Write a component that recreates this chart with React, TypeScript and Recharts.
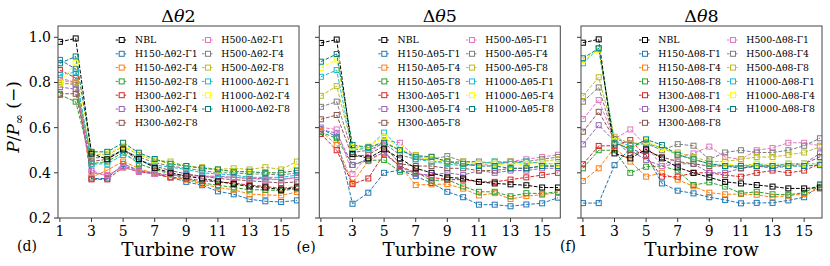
import React from 'react'
import { LineChart, Line, XAxis, YAxis } from 'recharts'

const rows = [1, 2, 3, 4, 5, 6, 7, 8, 9, 10, 11, 12, 13, 14, 15, 16]
const xTicks = [1, 3, 5, 7, 9, 11, 13, 15]
const yTicks = [0.2, 0.4, 0.6, 0.8, 1.0]
const panelThetas = ['2', '5', '8']
const panelTags = ['(d)', '(e)', '(f)']
const heights = ['150', '300', '500', '1000']
const gammas = ['1', '4', '8']
const seriesColors = [
  '#000000', '#1f77b4', '#ff7f0e', '#2ca02c', '#d62728', '#9467bd', '#8c564b',
  '#e377c2', '#7f7f7f', '#bcbd22', '#17becf', '#ffff00', '#008080',
]

// order: NBL, H150-Γ1/4/8, H300-Γ1/4/8, H500-Γ1/4/8, H1000-Γ1/4/8
const dTheta2: number[][] = [
  [0.98, 0.995, 0.485, 0.46, 0.504, 0.461, 0.422, 0.4, 0.385, 0.375, 0.362, 0.35, 0.34, 0.335, 0.325, 0.335],
  [0.9, 0.86, 0.375, 0.375, 0.44, 0.41, 0.395, 0.38, 0.36, 0.345, 0.318, 0.305, 0.283, 0.274, 0.271, 0.278],
  [0.81, 0.8, 0.38, 0.412, 0.45, 0.42, 0.395, 0.38, 0.37, 0.35, 0.335, 0.325, 0.306, 0.302, 0.3, 0.315],
  [0.745, 0.715, 0.44, 0.45, 0.49, 0.44, 0.415, 0.395, 0.375, 0.355, 0.345, 0.335, 0.325, 0.325, 0.32, 0.33],
  [0.855, 0.82, 0.371, 0.371, 0.424, 0.405, 0.395, 0.38, 0.375, 0.365, 0.36, 0.355, 0.345, 0.34, 0.33, 0.34],
  [0.78, 0.77, 0.41, 0.385, 0.43, 0.41, 0.4, 0.39, 0.39, 0.385, 0.385, 0.38, 0.375, 0.375, 0.37, 0.38],
  [0.75, 0.75, 0.45, 0.46, 0.5, 0.455, 0.43, 0.41, 0.395, 0.385, 0.375, 0.37, 0.365, 0.36, 0.355, 0.36],
  [0.82, 0.8, 0.4, 0.39, 0.424, 0.405, 0.395, 0.39, 0.385, 0.385, 0.38, 0.38, 0.375, 0.37, 0.37, 0.38],
  [0.8, 0.79, 0.465, 0.47, 0.5, 0.47, 0.445, 0.43, 0.42, 0.41, 0.4, 0.4, 0.395, 0.395, 0.39, 0.4],
  [0.79, 0.8, 0.48, 0.48, 0.515, 0.48, 0.455, 0.45, 0.43, 0.425, 0.415, 0.42, 0.415, 0.425, 0.415, 0.45],
  [0.835, 0.845, 0.438, 0.44, 0.479, 0.455, 0.435, 0.425, 0.415, 0.4, 0.395, 0.39, 0.38, 0.38, 0.38, 0.39],
  [0.8, 0.885, 0.49, 0.485, 0.52, 0.485, 0.455, 0.44, 0.43, 0.42, 0.41, 0.41, 0.4, 0.4, 0.4, 0.43],
  [0.885, 0.915, 0.493, 0.493, 0.533, 0.489, 0.461, 0.44, 0.43, 0.42, 0.415, 0.405, 0.405, 0.4, 0.4, 0.41],
]

const dTheta5: number[][] = [
  [0.975, 0.99, 0.483, 0.464, 0.504, 0.464, 0.42, 0.4, 0.38, 0.375, 0.36, 0.353, 0.349, 0.345, 0.335, 0.335],
  [0.595, 0.56, 0.263, 0.312, 0.4, 0.412, 0.385, 0.355, 0.316, 0.292, 0.259, 0.259, 0.252, 0.26, 0.265, 0.29],
  [0.585, 0.523, 0.356, 0.452, 0.493, 0.43, 0.346, 0.349, 0.35, 0.33, 0.3, 0.31, 0.284, 0.297, 0.303, 0.312],
  [0.58, 0.553, 0.435, 0.455, 0.457, 0.405, 0.405, 0.365, 0.37, 0.34, 0.316, 0.316, 0.296, 0.31, 0.308, 0.316],
  [0.572, 0.5, 0.35, 0.375, 0.485, 0.43, 0.4, 0.38, 0.37, 0.37, 0.36, 0.36, 0.37, 0.38, 0.39, 0.4],
  [0.592, 0.575, 0.435, 0.46, 0.49, 0.427, 0.395, 0.39, 0.4, 0.39, 0.41, 0.4, 0.41, 0.41, 0.42, 0.42],
  [0.637, 0.656, 0.47, 0.48, 0.52, 0.44, 0.43, 0.43, 0.42, 0.42, 0.41, 0.41, 0.42, 0.42, 0.43, 0.43],
  [0.601, 0.592, 0.395, 0.48, 0.545, 0.533, 0.47, 0.45, 0.45, 0.43, 0.44, 0.43, 0.45, 0.46, 0.47, 0.48],
  [0.692, 0.715, 0.49, 0.5, 0.53, 0.48, 0.46, 0.46, 0.474, 0.45, 0.45, 0.44, 0.45, 0.45, 0.46, 0.47],
  [0.741, 0.784, 0.51, 0.51, 0.54, 0.5, 0.479, 0.47, 0.45, 0.45, 0.44, 0.45, 0.45, 0.44, 0.45, 0.46],
  [0.825, 0.855, 0.5, 0.51, 0.578, 0.51, 0.46, 0.45, 0.44, 0.43, 0.44, 0.45, 0.44, 0.45, 0.44, 0.44],
  [0.865, 0.902, 0.515, 0.52, 0.557, 0.51, 0.47, 0.46, 0.45, 0.44, 0.44, 0.44, 0.43, 0.44, 0.44, 0.44],
  [0.892, 0.926, 0.523, 0.513, 0.533, 0.5, 0.471, 0.471, 0.45, 0.44, 0.43, 0.43, 0.42, 0.42, 0.43, 0.43],
]

const dTheta8: number[][] = [
  [0.976, 0.991, 0.486, 0.464, 0.504, 0.464, 0.424, 0.4, 0.38, 0.36, 0.353, 0.346, 0.339, 0.331, 0.331, 0.335],
  [0.266, 0.266, 0.434, 0.508, 0.48, 0.353, 0.321, 0.309, 0.292, 0.28, 0.265, 0.267, 0.267, 0.278, 0.292, 0.345],
  [0.364, 0.42, 0.511, 0.45, 0.383, 0.4, 0.37, 0.34, 0.312, 0.305, 0.306, 0.303, 0.292, 0.299, 0.306, 0.33],
  [0.42, 0.5, 0.5, 0.4, 0.427, 0.43, 0.41, 0.346, 0.358, 0.339, 0.309, 0.316, 0.305, 0.303, 0.312, 0.349],
  [0.438, 0.519, 0.52, 0.545, 0.474, 0.383, 0.383, 0.4, 0.4, 0.39, 0.383, 0.4, 0.41, 0.4, 0.41, 0.44],
  [0.526, 0.611, 0.54, 0.5, 0.457, 0.43, 0.44, 0.44, 0.4, 0.4, 0.42, 0.43, 0.42, 0.43, 0.44, 0.486],
  [0.582, 0.67, 0.55, 0.479, 0.5, 0.47, 0.45, 0.44, 0.43, 0.43, 0.42, 0.43, 0.43, 0.44, 0.44, 0.47],
  [0.638, 0.722, 0.55, 0.592, 0.52, 0.43, 0.47, 0.486, 0.516, 0.47, 0.46, 0.5, 0.51, 0.533, 0.533, 0.52],
  [0.715, 0.778, 0.55, 0.53, 0.53, 0.5, 0.527, 0.52, 0.46, 0.49, 0.5, 0.49, 0.49, 0.5, 0.52, 0.553],
  [0.74, 0.823, 0.56, 0.53, 0.535, 0.51, 0.49, 0.47, 0.45, 0.45, 0.46, 0.47, 0.47, 0.48, 0.49, 0.515],
  [0.885, 0.951, 0.54, 0.52, 0.53, 0.51, 0.48, 0.46, 0.44, 0.43, 0.43, 0.44, 0.43, 0.44, 0.44, 0.44],
  [0.9, 0.945, 0.54, 0.51, 0.54, 0.51, 0.48, 0.46, 0.44, 0.44, 0.43, 0.44, 0.44, 0.44, 0.44, 0.44],
  [0.907, 0.951, 0.53, 0.508, 0.548, 0.523, 0.48, 0.46, 0.44, 0.43, 0.43, 0.43, 0.43, 0.43, 0.43, 0.434],
]

const panelValues = [dTheta2, dTheta5, dTheta8]

const FONT = '"DejaVu Serif", serif'
const PLOT_TOP = 26
const PLOT_H = 192
const PLOT_W = 241
const Y_W = 50
const plotLefts = [58, 319.3, 581]
const legendCol1 = [63.7, 65, 64]
const legendCol2 = [150, 152.7, 152]
const LEGEND_Y0 = 40
const LEGEND_DY = 13.8
const DASH = '3.7 1.6'

const seriesLabel = (i: number, theta: string) => {
  if (i === 0) return 'NBL'
  const h = heights[Math.floor((i - 1) / 3)]
  const g = gammas[(i - 1) % 3]
  return `H${h}-Δθ${theta}-Γ${g}`
}

const squareDot = (color: string) => (props: any) => {
  const { cx, cy, index } = props
  if (cx == null || cy == null) return <g key={index} />
  return (
    <rect key={index} x={cx - 2.5} y={cy - 2.5} width={5} height={5}
      fill="none" stroke={color} strokeWidth={1} />
  )
}

function Panel({ p }: { p: number }) {
  const vals = panelValues[p]
  const data = rows.map((r, j) => {
    const d: Record<string, number> = { row: r }
    vals.forEach((s, i) => { d[`s${i}`] = s[j] })
    return d
  })
  // draw NBL last so it stays on top
  const order = [1, 2, 3, 4, 5, 6, 7, 8, 9, 10, 11, 12, 0]
  return (
    <div style={{ position: 'absolute', left: plotLefts[p] - Y_W, top: PLOT_TOP - 5 }}>
      <LineChart width={Y_W + PLOT_W + 5} height={5 + PLOT_H + 30} data={data}
        margin={{ top: 5, right: 5, bottom: 0, left: 0 }}>
        <XAxis dataKey="row" type="number" domain={[0.88, 16.13]} ticks={xTicks}
          allowDataOverflow interval={0} height={30} axisLine={false}
          tickSize={4} tickMargin={4} tickLine={{ stroke: '#333' }}
          tick={{ fontSize: 14, fill: '#000', fontFamily: FONT }} />
        <YAxis type="number" domain={[0.2, 1.05]} ticks={yTicks} allowDataOverflow
          width={Y_W} axisLine={false} tickSize={4} tickMargin={3} interval={0}
          tickLine={{ stroke: '#333' }}
          tickFormatter={(v: number) => (p === 0 ? v.toFixed(1) : '')}
          tick={{ fontSize: 14, fill: '#000', fontFamily: FONT }} />
        {order.map(i => (
          <Line key={i} type="linear" dataKey={`s${i}`} stroke={seriesColors[i]}
            strokeWidth={1} strokeDasharray={DASH} dot={squareDot(seriesColors[i])}
            activeDot={false} isAnimationActive={false} />
        ))}
      </LineChart>
    </div>
  )
}

function Overlay() {
  return (
    <svg width={830} height={266} style={{ position: 'absolute', left: 0, top: 0, pointerEvents: 'none' }}
      fontFamily={FONT}>
      {plotLefts.map((left, p) => {
        const cx = left + PLOT_W / 2
        return (
          <g key={p}>
            <rect x={left} y={PLOT_TOP} width={PLOT_W} height={PLOT_H} fill="none"
              stroke="#444" strokeWidth={1} />
            <text x={cx} y={21.5} fontSize={17.5} textAnchor="middle" fill="#000">
              Δ<tspan fontStyle="italic">θ</tspan>{panelThetas[p]}
            </text>
            <text x={cx} y={255.5} fontSize={18.4} textAnchor="middle" fill="#000">Turbine row</text>
            {vals(p).map((_, i) => {
              const col = i < 7 ? 0 : 1
              const k = i < 7 ? i : i - 7
              const mx = left + (col === 0 ? legendCol1[p] : legendCol2[p])
              const my = LEGEND_Y0 + k * LEGEND_DY
              const c = seriesColors[i]
              return (
                <g key={i}>
                  <line x1={mx - 6} x2={mx + 6} y1={my} y2={my} stroke={c} strokeWidth={1} strokeDasharray="2.5 1.5" />
                  <rect x={mx - 2.5} y={my - 2.5} width={5} height={5} fill="#fff" stroke={c} strokeWidth={1} />
                  <text x={mx + 13.3} y={my + 3.4} fontSize={9.3} fill="#000">{seriesLabel(i, panelThetas[p])}</text>
                </g>
              )
            })}
          </g>
        )
      })}
      <text x={27} y={251} fontSize={14} textAnchor="middle" fill="#000">{panelTags[0]}</text>
      <text x={306} y={252} fontSize={14} textAnchor="middle" fill="#000">{panelTags[1]}</text>
      <text x={568} y={251} fontSize={14} textAnchor="middle" fill="#000">{panelTags[2]}</text>
      <text transform="translate(19,117) rotate(-90)" fontSize={17} textAnchor="middle" fill="#000">
        <tspan fontStyle="italic">P</tspan>/<tspan fontStyle="italic">P</tspan>
        <tspan fontSize={12} dy={4}>∞</tspan>
        <tspan dy={-4}> (−)</tspan>
      </text>
    </svg>
  )
}

const vals = (p: number) => panelValues[p]

export default function App() {
  return (
    <div style={{ position: 'absolute', left: 0, top: 0, width: 830, height: 266, background: '#fff' }}>
      {[0, 1, 2].map(p => <Panel key={p} p={p} />)}
      <Overlay />
    </div>
  )
}
